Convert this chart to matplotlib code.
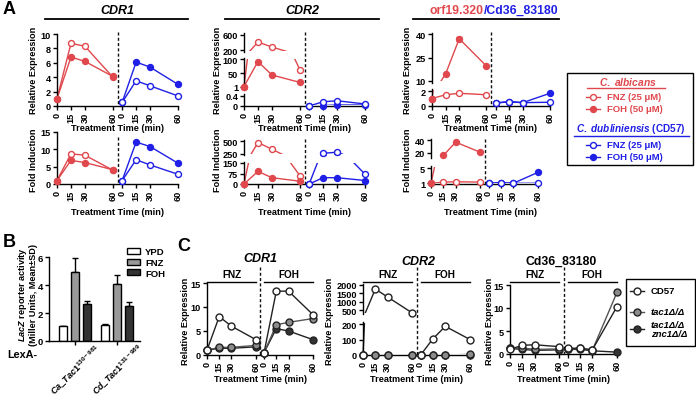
import numpy as np
import matplotlib
matplotlib.use("Agg")
import matplotlib.pyplot as plt
from matplotlib.lines import Line2D
from matplotlib.patches import Rectangle
from matplotlib.transforms import blended_transform_factory, ScaledTranslation

W, H, DPI = 696, 402, 100

plt.rcParams.update({
    "font.family": ["Liberation Sans", "DejaVu Sans"],
    "font.weight": "bold",
    "axes.linewidth": 1.0,
    "mathtext.fontset": "custom",
    "mathtext.rm": "Liberation Sans:bold",
    "mathtext.it": "Liberation Sans:italic:bold",
    "mathtext.bf": "Liberation Sans:bold",
})

RED = "#e0484d"
BLUE = "#1f1fe6"
LABEL_SIZE = 6.6

# ---- shared time axis: FNZ/Ca course at 0-60, second course shifted right
TIMES = np.array([0, 15, 30, 60])
GAP = 70
TICK_POS = np.concatenate([TIMES, TIMES + GAP])
TICK_LAB = ["0", "15", "30", "60"] * 2

# ---- panel A (Ca = C. albicans, Cd = C. dubliniensis) -----------------------
cdr1_rel_ca_fnz = [1.0, 8.7, 8.3, 4.0]
cdr1_rel_ca_foh = [1.0, 6.8, 6.2, 4.1]
cdr1_rel_cd_fnz = [0.5, 3.5, 2.8, 1.4]
cdr1_rel_cd_foh = [0.5, 6.1, 5.4, 3.0]
cdr1_fold_ca_fnz = [1.0, 8.7, 8.3, 4.0]
cdr1_fold_ca_foh = [1.0, 6.8, 6.2, 4.1]
cdr1_fold_cd_fnz = [1.0, 7.0, 5.5, 2.8]
cdr1_fold_cd_foh = [1.0, 12.1, 10.8, 6.0]

cdr2_rel_ca_fnz = [1.0, 413, 280, 62]
cdr2_rel_ca_foh = [1.0, 92, 43, 16]
cdr2_rel_cd_fnz = [0.0, 0.17, 0.21, 0.08]
cdr2_rel_cd_foh = [0.0, 0.02, 0.04, 0.04]
cdr2_fold_ca_fnz = [0, 470, 335, 60]
cdr2_fold_ca_foh = [0, 90, 45, 20]
cdr2_fold_cd_fnz = [0, 255, 275, 70]
cdr2_fold_cd_fnz_err = [0, 25, 25, 0]
cdr2_fold_cd_foh = [0, 45, 45, 25]

orf_rel_ca_fnz = [1.0, 1.5, 1.7, 1.5]
orf_rel_ca_foh = [1.0, 14.5, 37.0, 19.5]
orf_rel_ca_foh_err = [0, 0, 1.2, 0]
orf_rel_cd_fnz = [0.4, 0.6, 0.45, 0.5]
orf_rel_cd_foh = [0.4, 0.55, 0.45, 1.7]
orf_fold_ca_fnz = [1.0, 1.3, 1.4, 1.3]
orf_fold_ca_foh = [1.0, 16, 37, 21]
orf_fold_cd_fnz = [1.0, 1.2, 1.0, 1.0]
orf_fold_cd_foh = [1.0, 1.1, 1.0, 3.9]

# ---- panel B ---------------------------------------------------------------
lexa_constructs = [r"$\mathit{Ca\_Tac1}^{\mathit{130-981}}$",
                   r"$\mathit{Cd\_Tac1}^{\mathit{131-989}}$"]
b_conditions = ["YPD", "FNZ", "FOH"]
b_ca_mean = [1.05, 4.95, 2.65]
b_ca_sd = [0.05, 1.0, 0.2]
b_cd_mean = [1.15, 4.05, 2.5]
b_cd_sd = [0.05, 0.7, 0.3]
B_COLORS = ["white", "#999999", "#333333"]

# ---- panel C (strains CD57, tac1, tac1/znc1) --------------------------------
c_strains = ["CD57", "tac1Δ/Δ", "tac1Δ/Δ\nznc1Δ/Δ"]
c_cdr1_cd57_fnz = [1.0, 8.0, 6.0, 3.2]
c_cdr1_cd57_foh = [0.5, 13.3, 13.3, 8.4]
c_cdr1_tac1_fnz = [1.0, 1.6, 1.6, 2.0]
c_cdr1_tac1_foh = [0.5, 6.3, 6.8, 7.6]
c_cdr1_dbl_fnz = [1.0, 1.4, 1.4, 1.7]
c_cdr1_dbl_foh = [0.5, 5.5, 5.0, 3.2]

c_cdr2_cd57_fnz = [0, 1750, 1270, 320]
c_cdr2_cd57_foh = [0, 105, 185, 100]
c_cdr2_tac1_fnz = [0, 0, 0, 0]
c_cdr2_tac1_foh = [0, 0, 0, 4]
c_cdr2_dbl_fnz = [0, 0, 0, 0]
c_cdr2_dbl_foh = [0, 0, 0, 2]

c_cd36_cd57_fnz = [1.0, 1.9, 2.0, 1.6]
c_cd36_cd57_foh = [1.2, 1.3, 0.9, 10.3]
c_cd36_tac1_fnz = [1.3, 1.3, 1.0, 1.1]
c_cd36_tac1_foh = [1.1, 1.2, 0.8, 13.4]
c_cd36_dbl_fnz = [1.2, 1.0, 0.8, 0.9]
c_cd36_dbl_foh = [1.0, 1.0, 0.7, 0.4]

C_FACE = ["white", "#8c8c8c", "#333333"]
C_LINE = ["#222222", "#555555", "#222222"]

fig = plt.figure(figsize=(W / DPI, H / DPI), dpi=DPI)


def px_axes(left, top, right, bottom):
    return fig.add_axes([left / W, 1 - bottom / H, (right - left) / W, (bottom - top) / H])


def time_axes(left, right, segments, size=6.6):
    """segments, top to bottom: (top_px, bottom_px, ylim, yticks)"""
    axes = []
    for i, (top, bottom, ylim, yticks) in enumerate(segments):
        ax = px_axes(left, top, right, bottom)
        ax.patch.set_visible(False)
        ax.set_xlim(0, TICK_POS[-1])
        ax.set_ylim(*ylim)
        ax.set_yticks(yticks, [f"{t:g}" for t in yticks])
        ax.spines[["top", "right"]].set_visible(False)
        ax.tick_params(length=3, width=1, pad=1.2, labelsize=size)
        if i < len(segments) - 1:
            ax.spines["bottom"].set_visible(False)
            ax.tick_params(axis="x", bottom=False, labelbottom=False)
        else:
            ax.set_xticks(TICK_POS, TICK_LAB, rotation=90)
        axes.append(ax)
    return axes


def series(axes, x, y, color, face, err=None, ms=4.3, lc=None):
    x = np.asarray(x, float)
    y = np.asarray(y, float)
    broken = len(axes) > 1
    for ax in axes:
        lo, hi = ax.get_ylim()
        line, = ax.plot(x, y, color=lc or color, lw=1.0, zorder=2)
        if broken:
            # clip a pixel inside each segment so lines living in another
            # segment do not bleed along its edge
            h = ax.get_position().height * H
            eps = 1.2 / h
            clip = Rectangle((-0.02, eps), 1.04, 1 - 2 * eps, transform=ax.transAxes,
                             fill=False, visible=False)
            ax.add_patch(clip)
            line.set_clip_path(clip)
        keep = (y >= lo) & (y <= hi)
        if err is not None:
            e = np.asarray(err, float)[keep]
            ax.errorbar(x[keep], y[keep], yerr=e, fmt="none", ecolor=color,
                        elinewidth=1, capsize=2, clip_on=False, zorder=2)
        ax.plot(x[keep], y[keep], ls="none", marker="o", ms=ms, mfc=face,
                mec=color, mew=1, clip_on=False, zorder=3)


def divider(ax, top_px, bottom_px):
    tr = blended_transform_factory(ax.transData, fig.transFigure)
    xm = (TIMES[-1] + GAP) / 2
    fig.add_artist(Line2D([xm, xm], [1 - top_px / H, 1 - bottom_px / H], transform=tr,
                          color="#111111", lw=1, ls=(0, (2.2, 1.6))))


def header(ax, y_line, y_text):
    tr = blended_transform_factory(ax.transData, fig.transFigure)
    for start, name in ((0, "FNZ"), (GAP, "FOH")):
        fig.add_artist(Line2D([start, start + TIMES[-1]], [1 - y_line / H] * 2,
                              transform=tr, color="black", lw=1))
        ax.text(start + TIMES[-1] / 2, 1 - y_text / H, name, transform=tr,
                ha="center", va="center", fontsize=7.2)


def a_panel(left, right, segments, ca_fnz, ca_foh, cd_fnz, cd_foh, top, ca_err=None, cd_err=None):
    axes = time_axes(left, right, segments)
    series(axes, TIMES, ca_fnz, RED, "white")
    series(axes, TIMES, ca_foh, RED, RED, err=ca_err)
    series(axes, TIMES + GAP, cd_foh, BLUE, BLUE)
    series(axes, TIMES + GAP, cd_fnz, BLUE, "white", err=cd_err)
    divider(axes[-1], top, segments[-1][1])
    return axes


# ---------------- panel A ----------------
a_panel(57, 178, [(35, 107, (0, 10), [0, 2, 4, 6, 8, 10])],
        cdr1_rel_ca_fnz, cdr1_rel_ca_foh, cdr1_rel_cd_fnz, cdr1_rel_cd_foh, 33)
a_panel(57, 178, [(133, 185, (0, 15), [0, 5, 10, 15])],
        cdr1_fold_ca_fnz, cdr1_fold_ca_foh, cdr1_fold_cd_fnz, cdr1_fold_cd_foh, 138)

a_panel(244, 365, [(34, 53, (150, 650), [200, 600]),
                   (59, 87.5, (1, 105), [1, 50, 100]),
                   (95, 107, (0, 0.48), [0, 0.4])],
        cdr2_rel_ca_fnz, cdr2_rel_ca_foh, cdr2_rel_cd_fnz, cdr2_rel_cd_foh, 33)
a_panel(244, 365, [(141, 156, (220, 520), [250, 500]),
                   (162.6, 185, (0, 160), [0, 75, 150])],
        cdr2_fold_ca_fnz, cdr2_fold_ca_foh, cdr2_fold_cd_fnz, cdr2_fold_cd_foh, 140,
        cd_err=cdr2_fold_cd_fnz_err)

a_panel(432, 550, [(33.5, 83.5, (9, 41), [10, 25, 40]),
                   (90, 107, (0, 2.27), [0, 2])],
        orf_rel_ca_fnz, orf_rel_ca_foh, orf_rel_cd_fnz, orf_rel_cd_foh, 33,
        ca_err=orf_rel_ca_foh_err)
a_panel(431, 538, [(140, 159, (12, 42), [20, 40]),
                   (167, 185, (0.8, 5.6), [1, 5])],
        orf_fold_ca_fnz, orf_fold_ca_foh, orf_fold_cd_fnz, orf_fold_cd_foh, 140)

# ---------------- panel B ----------------
axb = px_axes(49, 258, 140, 342)
xg = np.arange(len(lexa_constructs))
offsets = np.array([-1, 0, 1]) * 0.277
for k, cond in enumerate(b_conditions):
    vals = np.array([b_ca_mean[k], b_cd_mean[k]])
    sds = np.array([b_ca_sd[k], b_cd_sd[k]])
    axb.bar(xg + offsets[k], vals, width=0.19, color=B_COLORS[k], edgecolor="black",
            lw=1, label=cond, zorder=2)
    axb.errorbar(xg + offsets[k], vals, yerr=[np.zeros_like(sds), sds], fmt="none",
                 ecolor="black", elinewidth=1, capsize=2.5, capthick=1, zorder=1)
axb.set_xlim(-0.62, 1.55)
axb.set_ylim(0, 6)
axb.set_yticks([0, 2, 4, 6])
axb.set_xticks(xg, lexa_constructs, rotation=45, ha="right", rotation_mode="anchor")
axb.spines[["top", "right"]].set_visible(False)
axb.tick_params(length=3, width=1, pad=1.5, labelsize=6.8)
for lab in axb.get_xticklabels():
    lab.set_fontsize(6.5)
    lab.set_transform(lab.get_transform() + ScaledTranslation(0.2, 0.06, fig.dpi_scale_trans))
axb.legend(loc="upper left", bbox_to_anchor=(127 / W, 1 - 248 / H), bbox_transform=fig.transFigure,
           frameon=False, fontsize=6.8, handlelength=1.4, handleheight=0.6,
           labelspacing=0.2, handletextpad=0.5, borderaxespad=0, borderpad=0)

# ---------------- panel C ----------------
c_cdr1 = time_axes(207, 313, [(284, 356, (0, 15), [0, 5, 10, 15])])
c_cdr2 = time_axes(363, 470, [(285, 315.2, (250, 2050), [500, 1000, 1500, 2000]),
                              (322.7, 356, (0, 215), [0, 100, 200])])
c_cd36 = time_axes(510, 617, [(286, 355, (0, 15), [0, 5, 10, 15])])

for axes, rows in ((c_cdr1, [(c_cdr1_cd57_fnz, c_cdr1_cd57_foh), (c_cdr1_tac1_fnz, c_cdr1_tac1_foh),
                             (c_cdr1_dbl_fnz, c_cdr1_dbl_foh)]),
                   (c_cdr2, [(c_cdr2_cd57_fnz, c_cdr2_cd57_foh), (c_cdr2_tac1_fnz, c_cdr2_tac1_foh),
                             (c_cdr2_dbl_fnz, c_cdr2_dbl_foh)]),
                   (c_cd36, [(c_cd36_cd57_fnz, c_cd36_cd57_foh), (c_cd36_tac1_fnz, c_cd36_tac1_foh),
                             (c_cd36_dbl_fnz, c_cd36_dbl_foh)])):
    for k in (2, 1, 0):
        fnz, foh = rows[k]
        series(axes, TIMES, fnz, "#222222", C_FACE[k], ms=5, lc=C_LINE[k])
        series(axes, TIMES + GAP, foh, "#222222", C_FACE[k], ms=5, lc=C_LINE[k])
    header(axes[0], 283, 275)
    divider(axes[-1], 268, 356)

# ---------------- overlay: labels, titles, legends (pixel coords) ----------------
ov = fig.add_axes([0, 0, 1, 1])
ov.set_xlim(0, W)
ov.set_ylim(H, 0)
ov.axis("off")
ov.set_zorder(5)

for letter, (x, y) in {"A": (3, 10), "B": (3, 243), "C": (177, 247)}.items():
    ov.text(x, y, letter, fontsize=13, va="center", ha="left")

ov.text(117, 11, "CDR1", style="italic", fontsize=9, ha="center", va="center")
ov.plot([45, 188], [20, 20], color="black", lw=1.3)
ov.text(302, 11, "CDR2", style="italic", fontsize=9, ha="center", va="center")
ov.plot([225, 379], [20, 20], color="black", lw=1.3)
ov.text(484, 11, "orf19.320", color=RED, fontsize=8.8, ha="right", va="center")
ov.text(484, 11, "/Cd36_83180", color=BLUE, fontsize=8.8, ha="left", va="center")
ov.plot([413, 559], [20, 20], color="black", lw=1.3)

for x in (33, 217, 408):
    ov.text(x, 70, "Relative Expression", rotation=90, fontsize=LABEL_SIZE, ha="center", va="center")
    ov.text(x, 160, "Fold Induction", rotation=90, fontsize=LABEL_SIZE, ha="center", va="center")
for x in (117.5, 304.5, 491):
    ov.text(x, 129, "Treatment Time (min)", fontsize=LABEL_SIZE, ha="center", va="center")
    ov.text(x - (1 if x > 400 else 0), 213, "Treatment Time (min)", fontsize=LABEL_SIZE,
            ha="center", va="center")

# legend A
ov.add_patch(Rectangle((567, 74), 126, 92, fill=False, lw=1, edgecolor="black"))
ov.text(628, 82, r"$\mathit{C.\ albicans}$", color=RED, fontsize=7.4, ha="center", va="center")
ov.plot([587, 665], [89, 89], color=RED, lw=1)
ov.text(631, 129, r"$\mathit{C.\ dubliniensis}$ (CD57)", color=BLUE, fontsize=7.2, ha="center", va="center")
ov.plot([574, 689], [137, 137], color=BLUE, lw=1)
for y, col, face, lab in ((98, RED, "white", "FNZ (25 μM)"), (110, RED, RED, "FOH (50 μM)"),
                          (146, BLUE, "white", "FNZ (25 μM)"), (158, BLUE, BLUE, "FOH (50 μM)")):
    ov.plot([586, 600], [y, y], color=col, lw=1)
    ov.plot([593], [y], marker="o", ms=4.3, mfc=face, mec=col, mew=1)
    ov.text(607, y, lab, color=col, fontsize=6.8, ha="left", va="center")

# panel B text
ov.text(23, 295, r"$\mathit{LacZ}$ reporter activity", rotation=90, fontsize=6.6, ha="center", va="center")
ov.text(33.5, 295, "(Miller Units, Mean±SD)", rotation=90, fontsize=6.6, ha="center", va="center")
ov.text(7, 355, "LexA-", fontsize=7.8, ha="left", va="center")

# panel C text
ov.text(260, 259, "CDR1", style="italic", fontsize=9, ha="center", va="center")
ov.text(418, 262, "CDR2", style="italic", fontsize=9, ha="center", va="center")
ov.text(561, 262, "Cd36_83180", fontsize=8.8, ha="center", va="center")
for x in (185, 330, 489):
    ov.text(x, 321, "Relative Expression", rotation=90, fontsize=LABEL_SIZE, ha="center", va="center")
for x in (260, 416.5, 563.5):
    ov.text(x, 380, "Treatment Time (min)", fontsize=LABEL_SIZE, ha="center", va="center")

ov.add_patch(Rectangle((626, 280), 69, 67, fill=False, lw=1, edgecolor="black"))
for y, face, lc, lab in zip((292, 313, 330), C_FACE, C_LINE, c_strains):
    ov.plot([630, 644], [y, y], color=lc, lw=1)
    ov.plot([637], [y], marker="o", ms=5, mfc=face, mec="#222222", mew=1)
    ov.text(651, y, lab, fontsize=6.8, ha="left", va="center",
            style="normal" if lab == "CD57" else "italic", linespacing=0.95)

fig.savefig("out.png", dpi=DPI)
